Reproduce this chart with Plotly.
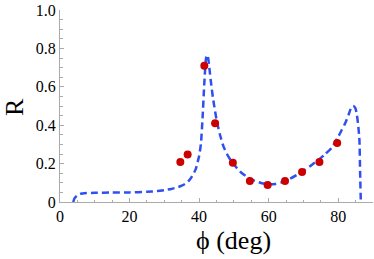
import plotly.graph_objects as go

# Measured data points (red)
phi_data = [34.6, 36.7, 41.5, 44.6, 49.7, 54.6, 59.7, 64.7, 69.6, 74.6, 79.7]
R_data = [0.208, 0.248, 0.71, 0.41, 0.205, 0.109, 0.089, 0.109, 0.156, 0.208, 0.307]

# Theory curve (blue dashed)
phi_curve = [3.8, 4.2, 5, 6, 7, 10, 15, 20, 25, 28, 30, 32, 34, 35, 36, 37, 38, 39, 40,
             40.5, 41, 41.5, 42, 42.3, 42.6, 43, 43.5, 44, 45, 46, 47, 48, 49, 50, 52, 54,
             56, 58, 60, 62, 64, 66, 68, 70, 72, 74, 76, 78, 80, 81, 82, 83, 83.7, 84.3,
             84.9, 85.4, 85.8, 86.1, 86.3, 86.5]
R_curve = [0.0, 0.02, 0.035, 0.043, 0.046, 0.048, 0.049, 0.05, 0.053, 0.057, 0.062, 0.068,
           0.078, 0.085, 0.095, 0.11, 0.135, 0.17, 0.24, 0.3, 0.44, 0.62, 0.75, 0.766, 0.75,
           0.69, 0.61, 0.54, 0.43, 0.35, 0.29, 0.25, 0.22, 0.195, 0.155, 0.128, 0.11, 0.098,
           0.092, 0.094, 0.104, 0.12, 0.14, 0.162, 0.188, 0.215, 0.245, 0.28, 0.34, 0.375,
           0.41, 0.455, 0.49, 0.5, 0.49, 0.45, 0.39, 0.32, 0.15, 0.0]

x_ticks = [0, 20, 40, 60, 80]
x_ticktext = ["0", "20", "40", "60", "80"]
y_ticks = [0, 0.2, 0.4, 0.6, 0.8, 1.0]
y_ticktext = ["0", "0.2", "0.4", "0.6", "0.8", "1.0"]

fig = go.Figure()
fig.add_trace(go.Scatter(x=phi_curve, y=R_curve, mode="lines",
                         line=dict(color="#2f4ff0", width=2.5, dash="7px,4px", shape="spline", smoothing=0.6),
                         hoverinfo="skip", cliponaxis=False))
fig.add_trace(go.Scatter(x=phi_data, y=R_data, mode="markers",
                         marker=dict(color="#cc0000", size=8)))

serif = "Liberation Serif"
axis_font = dict(family=serif, size=16, color="black")
fig.update_layout(
    width=374, height=259,
    font=dict(family=serif, size=16, color="black"),
    margin=dict(l=60, r=1, t=10, b=57, autoexpand=False),
    paper_bgcolor="white", plot_bgcolor="white",
    showlegend=False,
    xaxis=dict(range=[0, 90], showgrid=False, zeroline=False, automargin=False,
               showline=True, linecolor="#aaaaaa", linewidth=1,
               ticks="inside", ticklen=4, tickcolor="#aaaaaa",
               tickvals=x_ticks, ticktext=x_ticktext, tickfont=axis_font,
               minor=dict(ticks="inside", ticklen=2.5, tickcolor="#aaaaaa", dtick=5, tick0=0, showgrid=False)),
    yaxis=dict(range=[0, 1.0], showgrid=False, zeroline=False, automargin=False,
               showline=True, linecolor="#aaaaaa", linewidth=1,
               ticks="inside", ticklen=4, tickcolor="#aaaaaa",
               tickvals=y_ticks, ticktext=y_ticktext, tickfont=axis_font,
               minor=dict(ticks="inside", ticklen=2.5, tickcolor="#aaaaaa", dtick=0.05, tick0=0, showgrid=False)),
    annotations=[
        dict(text="ϕ (deg)", xref="paper", yref="paper", x=0.553, y=-0.203,
             xanchor="center", yanchor="middle", showarrow=False,
             font=dict(family=serif, size=26, color="black")),
        dict(text="R", xref="paper", yref="paper", x=-0.144, y=0.495,
             xanchor="center", yanchor="middle", showarrow=False, textangle=-90,
             font=dict(family=serif, size=26, color="black")),
    ],
)
fig.write_html("out.html", config={"displayModeBar": False},
               post_script="document.body.style.margin='0px';document.body.style.overflow='hidden';")
